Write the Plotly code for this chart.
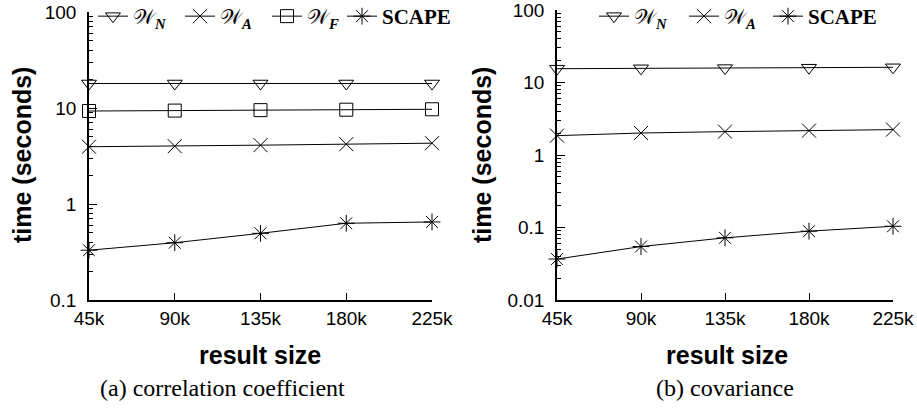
import math
import plotly.graph_objects as go

W, H = 917, 411

def px(x):
    return x / W

def py(y):
    return 1 - y / H

sizes = [45000, 90000, 135000, 180000, 225000]
size_labels = ["45k", "90k", "135k", "180k", "225k"]

# (a) correlation coefficient
corr_WN = [18.0, 18.0, 18.0, 18.0, 18.0]
corr_WA = [3.95, 4.0, 4.1, 4.2, 4.3]
corr_WF = [9.3, 9.4, 9.5, 9.6, 9.7]
corr_SCAPE = [0.33, 0.395, 0.495, 0.63, 0.65]

# (b) covariance
cov_WN = [15.5, 15.7, 15.8, 16.0, 16.2]
cov_WA = [1.85, 2.01, 2.1, 2.17, 2.24]
cov_SCAPE = [0.0367, 0.0546, 0.072, 0.089, 0.104]

names = {
    "WN": "𝒲<sub><b><i>N</i></b></sub>",
    "WA": "𝒲<sub><b><i>A</i></b></sub>",
    "WF": "𝒲<sub><b><i>F</i></b></sub>",
    "SCAPE": "<b>SCAPE</b>",
}
symbols = {"WN": "triangle-down-open", "WA": "x-thin-open",
           "WF": "square-open", "SCAPE": "asterisk-open"}
msize = {"WN": 13, "WA": 14, "WF": 13, "SCAPE": 14}

fig = go.Figure()

def add(key, ys, xa, ya, legend):
    fig.add_trace(go.Scatter(
        x=sizes, y=ys, mode="lines+markers", name=names[key],
        xaxis=xa, yaxis=ya, legend=legend, cliponaxis=False,
        line=dict(color="black", width=1),
        marker=dict(symbol=symbols[key], size=msize[key], color="black",
                    line=dict(color="black", width=1)),
    ))

add("WN", corr_WN, "x", "y", "legend")
add("WA", corr_WA, "x", "y", "legend")
add("WF", corr_WF, "x", "y", "legend")
add("SCAPE", corr_SCAPE, "x", "y", "legend3")
add("WN", cov_WN, "x2", "y2", "legend2")
add("WA", cov_WA, "x2", "y2", "legend2")
add("SCAPE", cov_SCAPE, "x2", "y2", "legend4")

SANS = "Liberation Sans"
SERIF = "Liberation Serif"
tickfont = dict(family=SANS, size=19, color="black")

def xax(domain):
    return dict(domain=domain, range=[45000, 225000], tickmode="array",
                tickvals=sizes, ticktext=size_labels, ticks="inside", ticklen=7,
                tickcolor="black", showline=True, linecolor="black", linewidth=1.5,
                showgrid=False, zeroline=False, tickfont=tickfont, fixedrange=True,
                ticklabeloverflow="allow")

def minor_vals(lo, hi):
    vals = []
    d = lo
    while d < hi:
        for k in range(2, 10):
            vals.append(k * d)
        d *= 10
    return vals

def yax(domain, lo, hi, anchor):
    majors = []
    d = lo
    while d <= hi * 1.0001:
        majors.append(d)
        d *= 10
    labels = [("%g" % v) for v in majors]
    return dict(domain=domain, type="log", range=[math.log10(lo), math.log10(hi)],
                tickmode="array", tickvals=majors, ticktext=labels,
                ticks="inside", ticklen=8, tickcolor="black",
                minor=dict(tickmode="array", tickvals=minor_vals(lo, hi),
                           ticks="inside", ticklen=4, tickcolor="black", showgrid=False),
                showline=True, linecolor="black", linewidth=1.5, showgrid=False,
                zeroline=False, tickfont=tickfont, ticklabelstandoff=7,
                ticklabeloverflow="allow", anchor=anchor, fixedrange=True)

legfont = dict(family=SERIF, size=21, color="black")

def leg(x, entry=45):
    d = dict(orientation="h", x=px(x), y=py(-4), xanchor="left", yanchor="top",
             bgcolor="rgba(0,0,0,0)", font=legfont, itemwidth=30,
             tracegroupgap=0, itemclick=False, itemdoubleclick=False)
    if entry:
        d["entrywidth"] = entry
    return d

fig.update_layout(
    width=W, height=H, margin=dict(l=0, r=0, t=0, b=0, autoexpand=False),
    paper_bgcolor="white", plot_bgcolor="white", showlegend=True,
    xaxis=xax([px(89), px(432)]),
    xaxis2=dict(xax([px(557), px(893)]), anchor="y2"),
    yaxis=yax([py(300), py(12)], 0.1, 100, "x"),
    yaxis2=yax([py(300), py(10)], 0.01, 100, "x2"),
    legend=leg(93, 42),
    legend3=leg(342, 0),
    legend2=leg(594, 45),
    legend4=leg(768, 0),
)

titlefont = dict(family=SANS, size=25, color="black")
capfont = dict(family=SERIF, size=24, color="black")

ann = [
    dict(text="<b>time (seconds)</b>", x=px(22), y=py(155), textangle=-90, font=titlefont),
    dict(text="<b>time (seconds)</b>", x=px(482), y=py(155), textangle=-90, font=titlefont),
    dict(text="<b>result size</b>", x=px(260), y=py(355), font=titlefont),
    dict(text="<b>result size</b>", x=px(727), y=py(355), font=titlefont),
    dict(text="(a) correlation coefficient", x=px(222), y=py(388), font=capfont),
    dict(text="(b) covariance", x=px(725), y=py(388), font=capfont),
]
for a in ann:
    fig.add_annotation(xref="paper", yref="paper", showarrow=False,
                       xanchor="center", yanchor="middle", **a)

fig.write_html("out.html", config={"displayModeBar": False},
               post_script="document.body.style.margin='0';")
